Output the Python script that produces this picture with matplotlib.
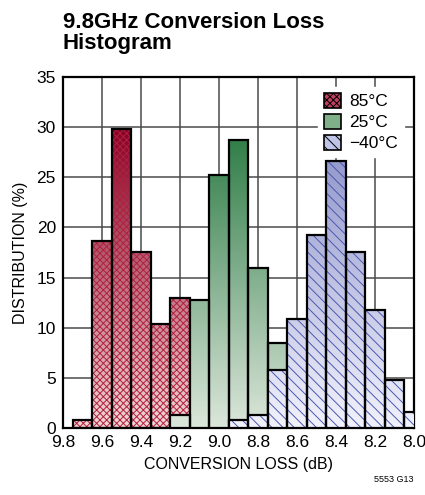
import numpy as np
import matplotlib
matplotlib.use("Agg")
import matplotlib.pyplot as plt
from matplotlib.colors import LinearSegmentedColormap
from matplotlib.patches import Patch

plt.rcParams["font.family"] = ["Liberation Sans", "DejaVu Sans"]
plt.rcParams["hatch.linewidth"] = 0.7

# bin centres (dB) and distribution (%) per temperature
bins_85 = [9.7, 9.6, 9.5, 9.4, 9.3, 9.2]
dist_85 = [0.8, 18.6, 29.8, 17.5, 10.4, 13.0]

bins_25 = [9.2, 9.1, 9.0, 8.9, 8.8, 8.7]
dist_25 = [1.3, 12.8, 25.2, 28.7, 16.0, 8.5]

bins_m40 = [8.9, 8.8, 8.7, 8.6, 8.5, 8.4, 8.3, 8.2, 8.1, 8.0]
dist_m40 = [0.8, 1.3, 5.8, 10.9, 19.2, 26.6, 17.5, 11.8, 4.8, 1.6]

labels = ["85°C", "25°C", "\u221240°C"]
x_ticks = [9.8, 9.6, 9.4, 9.2, 9.0, 8.8, 8.6, 8.4, 8.2, 8.0]
y_ticks = [0, 5, 10, 15, 20, 25, 30, 35]

styles = [
    dict(c0="#f2d6d8", c1="#880027", hatch="xxxxx", hc="#b0203a", z=2),
    dict(c0="#dbe6da", c1="#2c7b44", hatch=None, hc=None, z=3),
    dict(c0="#f2f2fc", c1="#8a90c8", hatch="\\\\\\", hc="#4a58b0", z=4),
]
GMAX = 30.0

fig = plt.figure(figsize=(4.25, 4.95), dpi=100)
ax = fig.add_axes([0.148, 0.1354, 0.826, 0.709])

for (bx, by), st in zip([(bins_85, dist_85), (bins_25, dist_25), (bins_m40, dist_m40)], styles):
    cmap = LinearSegmentedColormap.from_list("g", [st["c0"], st["c1"]])
    bars = ax.bar(bx, by, width=0.1, facecolor="none", edgecolor="black",
                  linewidth=1.6, zorder=st["z"] + 0.3)
    for p in bars:
        x0, w, h = p.get_x(), p.get_width(), p.get_height()
        grad = np.linspace(0, h / GMAX, 64).reshape(-1, 1)
        im = ax.imshow(grad, cmap=cmap, vmin=0, vmax=1, origin="lower",
                       extent=(x0, x0 + w, 0, h), aspect="auto",
                       interpolation="bilinear", zorder=st["z"])
        im.set_clip_path(p)
        im.set_clip_box(ax.bbox)
        if st["hatch"]:
            ax.bar(x0 + w / 2, h, width=w, facecolor="none", edgecolor=st["hc"],
                   linewidth=0, hatch=st["hatch"], zorder=st["z"] + 0.1)

ax.set_xlim(9.8, 8.0)
ax.set_ylim(0, 35)
ax.set_xticks(x_ticks)
ax.set_xticklabels([f"{v:.1f}" for v in x_ticks])
ax.set_yticks(y_ticks)
ax.tick_params(length=0, labelsize=12.5, pad=5)
ax.grid(True, color="#4a4a4a", linewidth=1.1)
ax.set_axisbelow(True)
for s in ax.spines.values():
    s.set_linewidth(1.6)
ax.set_aspect("auto")

ax.set_xlabel("CONVERSION LOSS (dB)", fontsize=11.5, labelpad=5)
ax.set_ylabel("DISTRIBUTION (%)", fontsize=11.5, labelpad=6)

handles = [
    Patch(facecolor="#c04060", edgecolor="black", hatch="xxxxx", linewidth=1.2),
    Patch(facecolor="#7fb08a", edgecolor="black", linewidth=1.2),
    Patch(facecolor="#c0c4e6", edgecolor="black", hatch="\\\\\\", linewidth=1.2),
]
leg = ax.legend(handles, labels, loc="upper right", bbox_to_anchor=(0.995, 0.995),
                fontsize=12.5, frameon=True, fancybox=False, framealpha=1,
                edgecolor="white", handlelength=1.0, handleheight=1.0,
                handletextpad=0.5, labelspacing=0.25, borderpad=0.3)
leg.set_zorder(10)

fig.text(0.148, 0.975, "9.8GHz Conversion Loss\nHistogram", fontsize=16,
         fontweight="bold", va="top", ha="left", linespacing=1.0)
fig.text(0.974, 0.022, "5553 G13", fontsize=6.5, ha="right", va="bottom")

fig.savefig("out.png", dpi=100)
